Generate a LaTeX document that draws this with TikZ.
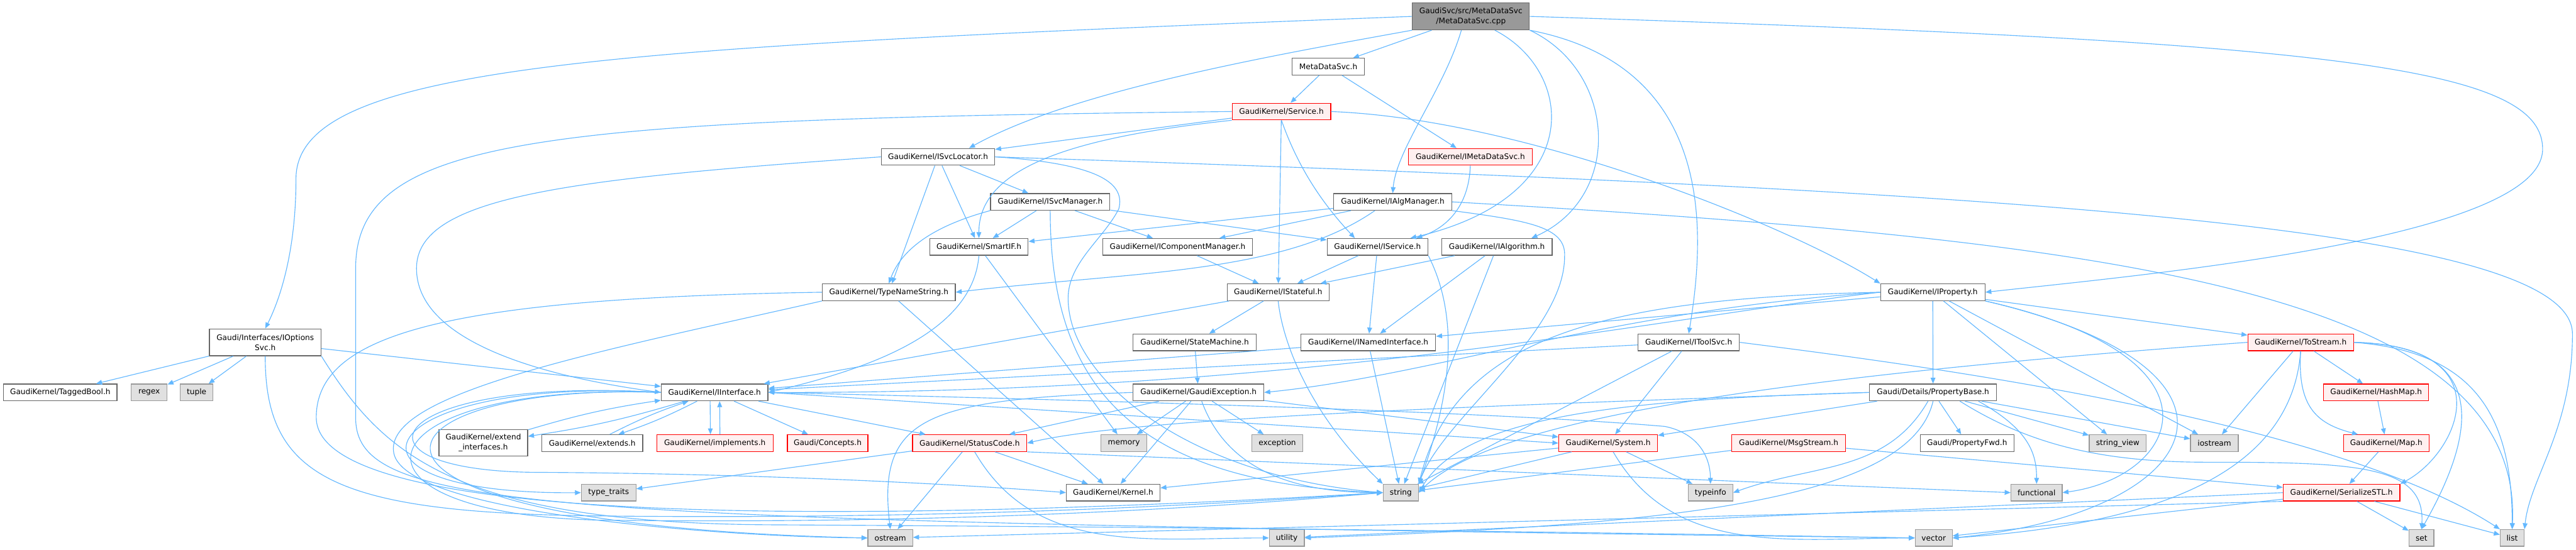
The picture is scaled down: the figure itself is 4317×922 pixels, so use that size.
\documentclass[tikz,border=0pt]{standalone}
\usepackage{fontspec}
\setmainfont{DejaVu Sans}
\usetikzlibrary{arrows.meta,calc}
\definecolor{edgeblue}{HTML}{63B8FF}
\definecolor{truncfill}{HTML}{FFF0F0}
\definecolor{sysfill}{HTML}{E0E0E0}
\definecolor{grey40}{HTML}{666666}
\definecolor{grey60}{HTML}{999999}

\begin{document}
\begin{tikzpicture}[x=0.75pt, y=-0.75pt, >={Triangle[length=7.5pt,width=6pt]}]
        \tikzset{hdr/.style={rectangle, draw=grey40, fill=white, line width=1pt, inner sep=0pt, minimum height=21pt, align=center, font=\fontsize{9.6}{12.5}\selectfont}, trunc/.style={hdr, draw=red, fill=truncfill}, sysinc/.style={hdr, draw=grey60, fill=sysfill}, rootfile/.style={hdr, fill=grey60}, tall/.style={minimum height=33.75pt}, wd/.style={minimum width=#1*0.75pt}, dep/.style={->, draw=edgeblue, line width=0.9pt}}
        \path[fill=white, use as bounding box] (0,0) rectangle (4317,922);
        \node[rootfile, tall, wd=196] (main) at (2465,27.5) {GaudiSvc/src/MetaDataSvc\\/MetaDataSvc.cpp};
        \node[hdr, wd=121] (metah) at (2226,111.7) {MetaDataSvc.h};
        \node[trunc, wd=165] (service) at (2147.5,187) {GaudiKernel/Service.h};
        \node[trunc, wd=208] (imeta) at (2464,263) {GaudiKernel/IMetaDataSvc.h};
        \node[hdr, wd=190] (isvcloc) at (1572,263) {GaudiKernel/ISvcLocator.h};
        \node[hdr, tall, wd=187] (ioptions) at (444.5,574) {Gaudi/Interfaces/IOptions\\Svc.h};
        \node[hdr, wd=200] (isvcmgr) at (1760,338.5) {GaudiKernel/ISvcManager.h};
        \node[hdr, wd=165] (smartif) at (1640.5,414) {GaudiKernel/SmartIF.h};
        \node[hdr, wd=251] (icompmgr) at (1973.5,414) {GaudiKernel/IComponentManager.h};
        \node[hdr, wd=223] (typename) at (1489.5,490) {GaudiKernel/TypeNameString.h};
        \node[hdr, wd=206] (statemach) at (2002,574) {GaudiKernel/StateMachine.h};
        \node[hdr, wd=171] (istateful) at (2142,490) {GaudiKernel/IStateful.h};
        \node[hdr, wd=198] (ialgmgr) at (2334,338.5) {GaudiKernel/IAlgManager.h};
        \node[hdr, wd=169] (iservice) at (2308.5,414) {GaudiKernel/IService.h};
        \node[hdr, wd=185] (ialgo) at (2508.5,414) {GaudiKernel/IAlgorithm.h};
        \node[hdr, wd=226] (inamed) at (2293,574) {GaudiKernel/INamedInterface.h};
        \node[hdr, wd=170] (itoolsvc) at (2830,574) {GaudiKernel/IToolSvc.h};
        \node[hdr, wd=175] (iprop) at (3239,490) {GaudiKernel/IProperty.h};
        \node[trunc, wd=177] (tostream) at (3855.5,574) {GaudiKernel/ToStream.h};
        \node[hdr, wd=190] (taggedbool) at (101,658) {GaudiKernel/TaggedBool.h};
        \node[sysinc, wd=60] (regex) at (250,658) {regex};
        \node[sysinc, wd=55] (tuple) at (329.5,658) {tuple};
        \node[hdr, tall, wd=148.5] (extendif) at (810,742.5) {GaudiKernel/extend\\\_interfaces.h};
        \node[hdr, wd=169] (extends) at (992.5,743) {GaudiKernel/extends.h};
        \node[sysinc, wd=91.5] (typetraits) at (1020,826) {type\_traits};
        \node[hdr, wd=179] (iiface) at (1197.5,658) {GaudiKernel/IInterface.h};
        \node[trunc, wd=195] (implements) at (1198,743) {GaudiKernel/implements.h};
        \node[trunc, wd=135] (concepts) at (1387,743) {Gaudi/Concepts.h};
        \node[trunc, wd=191.5] (statuscode) at (1625,743) {GaudiKernel/StatusCode.h};
        \node[sysinc, wd=77] (memory) at (1883.5,743) {memory};
        \node[hdr, wd=219] (gaudiexc) at (2008.5,658) {GaudiKernel/GaudiException.h};
        \node[hdr, wd=157] (kernel) at (1865.5,826) {GaudiKernel/Kernel.h};
        \node[sysinc, wd=75] (ostream) at (1492,902) {ostream};
        \node[sysinc, wd=85] (exception) at (2140.5,743) {exception};
        \node[sysinc, wd=59] (utility) at (2156.5,902) {utility};
        \node[sysinc, wd=59] (string) at (2347.5,826) {string};
        \node[trunc, wd=165.5] (system) at (2695,743) {GaudiKernel/System.h};
        \node[trunc, wd=191] (msgstream) at (2997.5,743) {GaudiKernel/MsgStream.h};
        \node[sysinc, wd=75] (typeinfo) at (2866.5,826) {typeinfo};
        \node[hdr, wd=213] (propbase) at (3239.5,658) {Gaudi/Details/PropertyBase.h};
        \node[sysinc, wd=62] (vector) at (3240.6,902) {vector};
        \node[hdr, wd=157] (propfwd) at (3296.5,743) {Gaudi/PropertyFwd.h};
        \node[trunc, wd=176] (hashmap) at (3982,658) {GaudiKernel/HashMap.h};
        \node[trunc, wd=143.5] (map) at (3999,743) {GaudiKernel/Map.h};
        \node[sysinc, wd=95.5] (strview) at (3549,743) {string\_view};
        \node[sysinc, wd=80] (iostream) at (3711,743) {iostream};
        \node[sysinc, wd=85.6] (functional) at (3413,826) {functional};
        \node[trunc, wd=195.6] (serialize) at (3924,826) {GaudiKernel/SerializeSTL.h};
        \node[sysinc, wd=41.6] (set) at (4058,902) {set};
        \node[sysinc, wd=40] (list) at (4210,902) {list};
        \draw[dep] (main.west) .. controls (1000,80) and (496,110) .. (496,300) .. controls (496,420) and (470,500) .. (ioptions.north);
        \draw[dep] (main.south west) .. controls (2150,90) and (1800,150) .. ($(isvcloc.north)+(52,0)$);
        \draw[dep] (main) -- (metah);
        \draw[dep] ($(main.south)+(-16,0)$) .. controls (2420,150) and (2340,250) .. (ialgmgr.north);
        \draw[dep] ($(main.south)+(40,0)$) .. controls (2640,120) and (2660,330) .. ($(iservice.north)+(55,0)$);
        \draw[dep] (main.south east) .. controls (2710,120) and (2720,330) .. ($(ialgo.north)+(58,0)$);
        \draw[dep] (main.south east) .. controls (2870,110) and (2860,380) .. (itoolsvc.north);
        \draw[dep] (main.east) .. controls (3900,70) and (4261,110) .. (4261,250) .. controls (4261,400) and (3600,460) .. (iprop.east);
        \draw[dep] (metah) -- (service);
        \draw[dep] (metah) -- (imeta);
        \draw[dep] (service) -- (isvcloc);
        \draw[dep] (service.south west) .. controls (1800,230) and (1640,280) .. (smartif.north);
        \draw[dep] (service) -- (istateful);
        \draw[dep] (service.south) .. controls (2175,280) and (2215,340) .. ($(iservice.north)+(-38,0)$);
        \draw[dep] (service.east) .. controls (2560,200) and (3000,380) .. (iprop.north west);
        \draw[dep] (service.west) .. controls (900,200) and (596,230) .. (596,450) -- (596,700) .. controls (596,860) and (900,872) .. (vector.west);
        \draw[dep] (imeta.south) .. controls (2462,340) and (2430,380) .. ($(iservice.north)+(65,0)$);
        \draw[dep] (isvcloc.west) .. controls (950,300) and (698,330) .. (698,450) .. controls (698,570) and (900,630) .. (iiface.west);
        \draw[dep] (isvcloc) -- (typename);
        \draw[dep] (isvcloc) -- (smartif);
        \draw[dep] (isvcloc) -- (isvcmgr);
        \draw[dep] (isvcloc.east) .. controls (1850,275) and (1885,310) .. (1875,350) .. controls (1850,400) and (1790,440) .. (1790,500) .. controls (1790,640) and (2000,800) .. (string.west);
        \draw[dep] (isvcloc.east) .. controls (3400,320) and (4311,380) .. (4311,560) .. controls (4311,720) and (4240,800) .. (list.north east);
        \draw[dep] (isvcmgr.south west) .. controls (1560,380) and (1510,420) .. (typename.north);
        \draw[dep] (isvcmgr) -- (smartif);
        \draw[dep] (isvcmgr) -- (icompmgr);
        \draw[dep] (isvcmgr) -- (iservice);
        \draw[dep] (isvcmgr.south) .. controls (1760,650) and (1900,810) .. (string.west);
        \draw[dep] (ialgmgr) -- (smartif);
        \draw[dep] (ialgmgr) -- (icompmgr);
        \draw[dep] ($(ialgmgr.south)+(-30,0)$) .. controls (2150,460) and (1900,455) .. (typename.east);
        \draw[dep] (ialgmgr.east) .. controls (3500,400) and (4230,480) .. (list.north);
        \draw[dep] (ialgmgr.south east) .. controls (2560,370) and (2625,380) .. (2622,430) .. controls (2622,560) and (2420,700) .. (string.north east);
        \draw[dep] (smartif.south) .. controls (1630,560) and (1450,620) .. (iiface.east);
        \draw[dep] (smartif) -- (memory);
        \draw[dep] (icompmgr) -- (istateful);
        \draw[dep] (typename) -- (kernel);
        \draw[dep] (typename.south west) .. controls (1000,590) and (640,660) .. (660,760) .. controls (680,860) and (1200,900) .. (ostream.west);
        \draw[dep] (typename.west) .. controls (750,500) and (530,560) .. (530,700) .. controls (530,880) and (1400,880) .. (string.west);
        \draw[dep] (istateful) -- (iiface);
        \draw[dep] (istateful) -- (statemach);
        \draw[dep] (istateful.south) .. controls (2150,580) and (2200,700) .. (string.north west);
        \draw[dep] (statemach) -- (gaudiexc);
        \draw[dep] (iservice) -- (istateful);
        \draw[dep] (iservice) -- (inamed);
        \draw[dep] (iservice.south east) .. controls (2440,520) and (2440,640) .. (string.north east);
        \draw[dep] (ialgo) -- (istateful);
        \draw[dep] (ialgo) -- (inamed);
        \draw[dep] (ialgo) -- (string);
        \draw[dep] (inamed) -- (iiface);
        \draw[dep] (inamed) -- (string);
        \draw[dep] (itoolsvc) -- (iiface);
        \draw[dep] (itoolsvc) -- (string);
        \draw[dep] (itoolsvc) -- (system);
        \draw[dep] (itoolsvc.east) .. controls (3200,610) and (3900,700) .. (list.north west);
        \draw[dep] (iprop.west) .. controls (2800,530) and (2200,660) .. (iiface.east);
        \draw[dep] (iprop) -- (inamed);
        \draw[dep] (iprop.west) .. controls (2700,500) and (2440,560) .. (string.north east);
        \draw[dep] (iprop.west) .. controls (2700,520) and (2400,630) .. (gaudiexc.east);
        \draw[dep] (iprop) -- (propbase);
        \draw[dep] (iprop) -- (strview);
        \draw[dep] (iprop) -- (iostream);
        \draw[dep] (iprop) -- (tostream);
        \draw[dep] (iprop.south east) .. controls (3750,600) and (3650,800) .. (functional.east);
        \draw[dep] (iprop.south east) .. controls (3820,620) and (3700,860) .. (vector.east);
        \draw[dep] (tostream.west) .. controls (3000,630) and (2500,700) .. (string.east);
        \draw[dep] (tostream) -- (iostream);
        \draw[dep] (tostream.south) .. controls (3840,800) and (3600,880) .. (vector.east);
        \draw[dep] (tostream) -- (hashmap);
        \draw[dep] (tostream.south) .. controls (3850,680) and (3880,710) .. ($(map.north west)+(25,0)$);
        \draw[dep] (tostream.east) .. controls (4200,580) and (4120,760) .. (serialize.north east);
        \draw[dep] (tostream.east) .. controls (4200,580) and (4130,760) .. (set.north);
        \draw[dep] (tostream.east) .. controls (4150,590) and (4210,700) .. (list.north);
        \draw[dep] (hashmap) -- (map);
        \draw[dep] (map) -- (serialize);
        \draw[dep] (serialize) -- (set);
        \draw[dep] (serialize) -- (list);
        \draw[dep] (serialize) -- (vector);
        \draw[dep] (serialize.west) -- (utility);
        \draw[dep] (serialize.south west) -- (ostream);
        \draw[dep] (propbase.west) .. controls (2500,680) and (1900,700) .. (statuscode.east);
        \draw[dep] (propbase) -- (system);
        \draw[dep] (propbase.west) .. controls (2700,670) and (2450,700) .. (string.east);
        \draw[dep] (propbase) to[out=-120,in=20] (typeinfo.east);
        \draw[dep] (propbase.south) .. controls (3200,840) and (2800,880) .. (utility.east);
        \draw[dep] (propbase) -- (propfwd);
        \draw[dep] ($(propbase.south)+(45,0)$) .. controls (3400,745) and (3520,775) .. (3700,775) .. controls (3950,775) and (4065,780) .. (set.north);
        \draw[dep] (propbase) -- (strview);
        \draw[dep] ($(propbase.south)+(76,0)$) .. controls (3400,720) and (3413,760) .. (functional.north);
        \draw[dep] (propbase) -- (iostream);
        \draw[dep] (statuscode) -- (typetraits);
        \draw[dep] (statuscode) -- (ostream);
        \draw[dep] (statuscode) to[out=-60,in=180] (utility.west);
        \draw[dep] (statuscode) -- (kernel);
        \draw[dep] (statuscode.south east) -- (functional.west);
        \draw[dep] (gaudiexc.west) .. controls (1550,670) and (1470,700) .. (ostream.north);
        \draw[dep] (gaudiexc) -- (statuscode);
        \draw[dep] (gaudiexc) -- (memory);
        \draw[dep] (gaudiexc) -- (kernel);
        \draw[dep] (gaudiexc) to[out=-70,in=180] (string.west);
        \draw[dep] (gaudiexc) -- (exception);
        \draw[dep] (gaudiexc) -- (system);
        \draw[dep] (iiface) to[bend left=4] (extendif);
        \draw[dep] (extendif) to[bend left=4] (iiface);
        \draw[dep] (iiface) to[bend left=4] (extends);
        \draw[dep] (extends) to[bend left=4] (iiface);
        \draw[dep] ([xshift=-5.6pt]iiface.south) -- ([xshift=-5.6pt]implements.north);
        \draw[dep] ([xshift=6.4pt]implements.north) -- ([xshift=6.4pt]iiface.south);
        \draw[dep] (iiface) -- (concepts);
        \draw[dep] (iiface) -- (statuscode);
        \draw[dep] (iiface.east) -- (system.west);
        \draw[dep] (iiface.east) .. controls (1800,670) and (2500,690) .. (2790,715) .. controls (2840,725) and (2866,760) .. (typeinfo.north);
        \draw[dep] (iiface.west) .. controls (620,630) and (520,830) .. (typetraits.west);
        \draw[dep] (iiface.west) .. controls (600,640) and (480,880) .. (ostream.west);
        \draw[dep] (iiface.west) .. controls (640,630) and (560,790) .. (900,792) .. controls (1300,794) and (1650,815) .. (kernel.west);
        \draw[dep] (iiface.west) .. controls (600,640) and (540,860) .. (1000,872) .. controls (1600,880) and (2050,850) .. (string.west);
        \draw[dep] (ioptions) -- (taggedbool);
        \draw[dep] (ioptions) -- (regex);
        \draw[dep] (ioptions) -- (tuple);
        \draw[dep] (ioptions) -- (iiface);
        \draw[dep] (ioptions.south) .. controls (444,800) and (560,860) .. (1000,865) .. controls (1600,872) and (2050,845) .. (string.west);
        \draw[dep] (ioptions.south east) .. controls (640,760) and (760,878) .. (1300,880) .. controls (2200,885) and (2800,895) .. (vector.west);
        \draw[dep] (system) -- (kernel);
        \draw[dep] (system) -- (string);
        \draw[dep] (system) -- (typeinfo);
        \draw[dep] (system) to[out=-60,in=180] (vector.west);
        \draw[dep] (msgstream) -- (string);
        \draw[dep] (msgstream) -- (serialize);
    \end{tikzpicture}
\end{document}
